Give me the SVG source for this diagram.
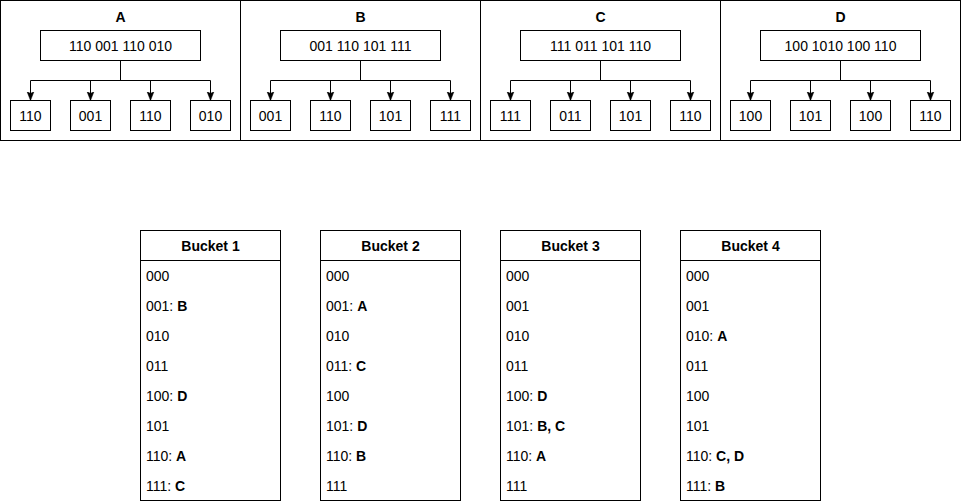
<svg xmlns="http://www.w3.org/2000/svg" width="962" height="501" viewBox="0 0 962 501">
<defs>
<style>
.box{fill:#fff;stroke:#000;stroke-width:1}
.edge{fill:none;stroke:#000;stroke-width:1}
text{font-family:"Liberation Sans",Arial,Helvetica,sans-serif;font-size:14px;fill:#000}
.c{text-anchor:middle;dominant-baseline:central}
.t{font-weight:bold}
.r{dominant-baseline:central}
</style>
<marker id="arr" markerUnits="userSpaceOnUse" markerWidth="10" markerHeight="10" refX="9" refY="4" orient="auto" viewBox="0 0 10 10">
<path d="M0,0.5 L9,4 L0,7.5 L2,4 Z" fill="#000" stroke="#000" stroke-width="0.5"/>
</marker>
</defs>
<rect width="962" height="501" fill="#fff"/>

<g id="panelA">
<rect class="box" x="0.5" y="0.5" width="240" height="140"/>
<text class="c t" x="120.5" y="17">A</text>
<rect class="box" x="40.5" y="30.5" width="160" height="30"/>
<text class="c" x="120.5" y="45.5">110 001 110 010</text>
<rect class="box" x="10.5" y="100.5" width="40" height="30"/><text class="c" x="30.5" y="115.5">110</text>
<rect class="box" x="70.5" y="100.5" width="40" height="30"/><text class="c" x="90.5" y="115.5">001</text>
<rect class="box" x="130.5" y="100.5" width="40" height="30"/><text class="c" x="150.5" y="115.5">110</text>
<rect class="box" x="190.5" y="100.5" width="40" height="30"/><text class="c" x="210.5" y="115.5">010</text>
</g>
<g id="panelB">
<rect class="box" x="240.5" y="0.5" width="240" height="140"/>
<text class="c t" x="360.5" y="17">B</text>
<rect class="box" x="280.5" y="30.5" width="160" height="30"/>
<text class="c" x="360.5" y="45.5">001 110 101 111</text>
<rect class="box" x="250.5" y="100.5" width="40" height="30"/><text class="c" x="270.5" y="115.5">001</text>
<rect class="box" x="310.5" y="100.5" width="40" height="30"/><text class="c" x="330.5" y="115.5">110</text>
<rect class="box" x="370.5" y="100.5" width="40" height="30"/><text class="c" x="390.5" y="115.5">101</text>
<rect class="box" x="430.5" y="100.5" width="40" height="30"/><text class="c" x="450.5" y="115.5">111</text>
</g>
<g id="panelC">
<rect class="box" x="480.5" y="0.5" width="240" height="140"/>
<text class="c t" x="600.5" y="17">C</text>
<rect class="box" x="520.5" y="30.5" width="160" height="30"/>
<text class="c" x="600.5" y="45.5">111 011 101 110</text>
<rect class="box" x="490.5" y="100.5" width="40" height="30"/><text class="c" x="510.5" y="115.5">111</text>
<rect class="box" x="550.5" y="100.5" width="40" height="30"/><text class="c" x="570.5" y="115.5">011</text>
<rect class="box" x="610.5" y="100.5" width="40" height="30"/><text class="c" x="630.5" y="115.5">101</text>
<rect class="box" x="670.5" y="100.5" width="40" height="30"/><text class="c" x="690.5" y="115.5">110</text>
</g>
<g id="panelD">
<rect class="box" x="720.5" y="0.5" width="240" height="140"/>
<text class="c t" x="840.5" y="17">D</text>
<rect class="box" x="760.5" y="30.5" width="160" height="30"/>
<text class="c" x="840.5" y="45.5">100 1010 100 110</text>
<rect class="box" x="730.5" y="100.5" width="40" height="30"/><text class="c" x="750.5" y="115.5">100</text>
<rect class="box" x="790.5" y="100.5" width="40" height="30"/><text class="c" x="810.5" y="115.5">101</text>
<rect class="box" x="850.5" y="100.5" width="40" height="30"/><text class="c" x="870.5" y="115.5">100</text>
<rect class="box" x="910.5" y="100.5" width="40" height="30"/><text class="c" x="930.5" y="115.5">110</text>
</g>

<g id="connectors">
<path class="edge" marker-end="url(#arr)" d="M120.5,60.5 V80.5 H30.5 V100.5"/>
<path class="edge" marker-end="url(#arr)" d="M120.5,60.5 V80.5 H90.5 V100.5"/>
<path class="edge" marker-end="url(#arr)" d="M120.5,60.5 V80.5 H150.5 V100.5"/>
<path class="edge" marker-end="url(#arr)" d="M120.5,60.5 V80.5 H210.5 V100.5"/>
<path class="edge" marker-end="url(#arr)" d="M360.5,60.5 V80.5 H270.5 V100.5"/>
<path class="edge" marker-end="url(#arr)" d="M360.5,60.5 V80.5 H330.5 V100.5"/>
<path class="edge" marker-end="url(#arr)" d="M360.5,60.5 V80.5 H390.5 V100.5"/>
<path class="edge" marker-end="url(#arr)" d="M360.5,60.5 V80.5 H450.5 V100.5"/>
<path class="edge" marker-end="url(#arr)" d="M600.5,60.5 V80.5 H510.5 V100.5"/>
<path class="edge" marker-end="url(#arr)" d="M600.5,60.5 V80.5 H570.5 V100.5"/>
<path class="edge" marker-end="url(#arr)" d="M600.5,60.5 V80.5 H630.5 V100.5"/>
<path class="edge" marker-end="url(#arr)" d="M600.5,60.5 V80.5 H690.5 V100.5"/>
<path class="edge" marker-end="url(#arr)" d="M840.5,60.5 V80.5 H750.5 V100.5"/>
<path class="edge" marker-end="url(#arr)" d="M840.5,60.5 V80.5 H810.5 V100.5"/>
<path class="edge" marker-end="url(#arr)" d="M840.5,60.5 V80.5 H870.5 V100.5"/>
<path class="edge" marker-end="url(#arr)" d="M840.5,60.5 V80.5 H930.5 V100.5"/>
</g>

<g id="bucket1">
<rect class="box" x="140.5" y="230.5" width="140" height="270"/>
<line class="edge" x1="140.5" y1="260.5" x2="280.5" y2="260.5"/>
<text class="c t" x="210.5" y="245.5">Bucket 1</text>
<text class="r" x="146" y="275.5">000</text>
<text class="r" x="146" y="305.5">001: <tspan class="t">B</tspan></text>
<text class="r" x="146" y="335.5">010</text>
<text class="r" x="146" y="365.5">011</text>
<text class="r" x="146" y="395.5">100: <tspan class="t">D</tspan></text>
<text class="r" x="146" y="425.5">101</text>
<text class="r" x="146" y="455.5">110: <tspan class="t">A</tspan></text>
<text class="r" x="146" y="485.5">111: <tspan class="t">C</tspan></text>
</g>
<g id="bucket2">
<rect class="box" x="320.5" y="230.5" width="140" height="270"/>
<line class="edge" x1="320.5" y1="260.5" x2="460.5" y2="260.5"/>
<text class="c t" x="390.5" y="245.5">Bucket 2</text>
<text class="r" x="326" y="275.5">000</text>
<text class="r" x="326" y="305.5">001: <tspan class="t">A</tspan></text>
<text class="r" x="326" y="335.5">010</text>
<text class="r" x="326" y="365.5">011: <tspan class="t">C</tspan></text>
<text class="r" x="326" y="395.5">100</text>
<text class="r" x="326" y="425.5">101: <tspan class="t">D</tspan></text>
<text class="r" x="326" y="455.5">110: <tspan class="t">B</tspan></text>
<text class="r" x="326" y="485.5">111</text>
</g>
<g id="bucket3">
<rect class="box" x="500.5" y="230.5" width="140" height="270"/>
<line class="edge" x1="500.5" y1="260.5" x2="640.5" y2="260.5"/>
<text class="c t" x="570.5" y="245.5">Bucket 3</text>
<text class="r" x="506" y="275.5">000</text>
<text class="r" x="506" y="305.5">001</text>
<text class="r" x="506" y="335.5">010</text>
<text class="r" x="506" y="365.5">011</text>
<text class="r" x="506" y="395.5">100: <tspan class="t">D</tspan></text>
<text class="r" x="506" y="425.5">101: <tspan class="t">B, C</tspan></text>
<text class="r" x="506" y="455.5">110: <tspan class="t">A</tspan></text>
<text class="r" x="506" y="485.5">111</text>
</g>
<g id="bucket4">
<rect class="box" x="680.5" y="230.5" width="140" height="270"/>
<line class="edge" x1="680.5" y1="260.5" x2="820.5" y2="260.5"/>
<text class="c t" x="750.5" y="245.5">Bucket 4</text>
<text class="r" x="686" y="275.5">000</text>
<text class="r" x="686" y="305.5">001</text>
<text class="r" x="686" y="335.5">010: <tspan class="t">A</tspan></text>
<text class="r" x="686" y="365.5">011</text>
<text class="r" x="686" y="395.5">100</text>
<text class="r" x="686" y="425.5">101</text>
<text class="r" x="686" y="455.5">110: <tspan class="t">C, D</tspan></text>
<text class="r" x="686" y="485.5">111: <tspan class="t">B</tspan></text>
</g>
</svg>
